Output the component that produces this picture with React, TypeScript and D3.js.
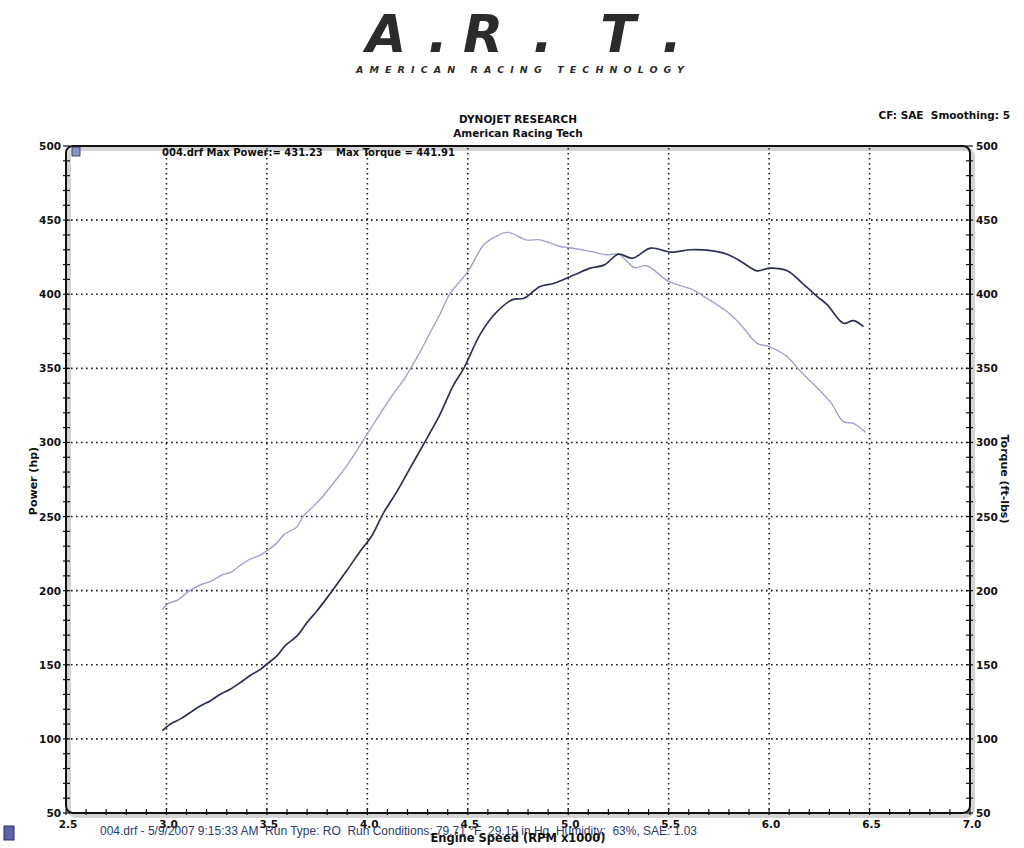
import React from 'react';
import * as d3 from 'd3';

// Engine speed (RPM x1000) and power (hp)
const rpmPower = [2.98, 3.02, 3.07, 3.12, 3.17, 3.22, 3.27, 3.32, 3.37, 3.42, 3.47, 3.5, 3.55, 3.59, 3.65, 3.7, 3.75, 3.8, 3.83, 3.9, 3.97, 4.02, 4.08, 4.15, 4.21, 4.26, 4.31, 4.36, 4.43, 4.48, 4.56, 4.63, 4.72, 4.78, 4.86, 4.93, 5.03, 5.11, 5.18, 5.25, 5.32, 5.41, 5.51, 5.61, 5.69, 5.79, 5.86, 5.94, 6.0, 6.09, 6.17, 6.24, 6.29, 6.37, 6.42, 6.47];
const powerHp = [105.6, 110, 113.5, 118, 122.4, 125.8, 130.3, 133.7, 138.2, 143.1, 147.1, 150.5, 156, 162.8, 169.5, 178.5, 186.5, 195.3, 200.8, 214, 227.6, 236.5, 252.3, 267.5, 282, 294, 306, 318.5, 339, 350, 372.6, 386, 396.2, 397.3, 405.2, 407.4, 413.1, 417.6, 419.8, 427, 424.3, 431.1, 428.4, 430, 429.7, 427, 422.1, 415.8, 417.6, 415.8, 406.8, 398.4, 392.8, 380.4, 382.2, 378.2];

// Engine speed (RPM x1000) and torque (ft-lbs)
const rpmTorque = [2.98, 3.0, 3.06, 3.11, 3.17, 3.22, 3.28, 3.32, 3.36, 3.41, 3.47, 3.5, 3.54, 3.59, 3.65, 3.68, 3.73, 3.77, 3.83, 3.9, 3.97, 4.0, 4.07, 4.13, 4.18, 4.22, 4.27, 4.32, 4.36, 4.41, 4.5, 4.58, 4.64, 4.7, 4.79, 4.86, 4.96, 5.0, 5.11, 5.19, 5.25, 5.33, 5.39, 5.5, 5.62, 5.69, 5.79, 5.86, 5.94, 6.0, 6.09, 6.15, 6.25, 6.31, 6.37, 6.42, 6.48];
const torqueFtLb = [187.2, 190.6, 194, 199.5, 204, 206.3, 210.8, 212.3, 216.3, 220.8, 224.2, 226.9, 230.9, 238.3, 243.2, 250, 256.7, 262.3, 272.4, 284.7, 299.3, 306, 320.6, 333, 342, 351, 363, 376, 386, 400, 415.3, 433.4, 439, 441.7, 436.7, 436.7, 432.2, 431.5, 428.9, 426.6, 427, 418, 419.2, 408.6, 403, 397.3, 388.3, 379.3, 366.9, 364.7, 357.9, 348.9, 335.4, 326.4, 314, 312.8, 306.8];

const xTicks = [2.5, 3.0, 3.5, 4.0, 4.5, 5.0, 5.5, 6.0, 6.5, 7.0];
const yTicks = [50, 100, 150, 200, 250, 300, 350, 400, 450, 500];

const maxPowerLabel = '004.drf Max Power:= 431.23';
const maxTorqueLabel = 'Max Torque = 441.91';
const footerText = '004.drf - 5/9/2007 9:15:33 AM  Run Type: RO  Run Conditions: 79.71 °F  29.15 in Hg  Humidity:  63%, SAE: 1.03';

const L = 66, R = 970, T = 146, B = 813;

export default function App() {
  const x = d3.scaleLinear().domain([2.5, 7.0]).range([L, R]);
  const y = d3.scaleLinear().domain([50, 500]).range([B, T]);
  const yR = d3.scaleLinear().domain([50, 500]).range([B, T]);

  const powerLine = d3
    .line<number>()
    .x((_, i) => x(rpmPower[i]))
    .y((d) => y(d))
    .curve(d3.curveCatmullRom.alpha(0.5));
  const torqueLine = d3
    .line<number>()
    .x((_, i) => x(rpmTorque[i]))
    .y((d) => yR(d))
    .curve(d3.curveCatmullRom.alpha(0.5));

  const minorX = d3.range(25, 71).map((v) => v / 10);
  const minorY = d3.range(50, 501, 10);

  const bold = { fontFamily: '"DejaVu Sans", Verdana, sans-serif', fontWeight: 700 as const };

  return (
    <svg
      width={1024}
      height={848}
      style={{ position: 'absolute', left: 0, top: 0, background: '#fff' }}
    >
      <rect x={0} y={0} width={1024} height={848} fill="#ffffff" />
      {/* Logo */}
      <g fill="#2b2b2b" style={{ fontFamily: '"DejaVu Sans", sans-serif', fontStyle: 'italic', fontWeight: 700 }}>
        <text x={386} y={52} fontSize={52} textAnchor="middle">A</text>
        <text x={438} y={52} fontSize={52} textAnchor="middle">.</text>
        <text x={483} y={52} fontSize={52} textAnchor="middle">R</text>
        <text x={543} y={52} fontSize={52} textAnchor="middle">.</text>
        <text x={618} y={52} fontSize={52} textAnchor="middle">T</text>
        <text x={672} y={52} fontSize={52} textAnchor="middle">.</text>
      </g>
      <text
        x={356}
        y={73}
        fontSize={9.5}
        textLength={328}
        lengthAdjust="spacing"
        fill="#2b2b2b"
        style={{ fontFamily: '"DejaVu Sans", sans-serif', fontStyle: 'italic', fontWeight: 700 }}
      >
        AMERICAN RACING TECHNOLOGY
      </text>

      {/* Titles */}
      <text x={518} y={123} fontSize={10.5} textAnchor="middle" fill="#111" style={bold}>DYNOJET RESEARCH</text>
      <text x={518} y={137} fontSize={10.5} textAnchor="middle" fill="#111" style={bold}>American Racing Tech</text>
      <text x={1010} y={119} fontSize={10.5} textAnchor="end" fill="#111" style={{ ...bold, whiteSpace: 'pre' }}>CF: SAE  Smoothing: 5</text>

      {/* Frame shadow */}
      <rect x={L + 3} y={T + 3} width={R - L} height={B - T} rx={7} fill="none" stroke="#d4d4d4" strokeWidth={4} />

      {/* Grid */}
      <g stroke="#1a1a1a" strokeWidth={1.6} strokeDasharray="1.6,3.4">
        {xTicks.slice(1, -1).map((t) => (
          <line key={'gx' + t} x1={x(t)} x2={x(t)} y1={T + 2} y2={B} />
        ))}
        {yTicks.slice(1, -1).map((t) => (
          <line key={'gy' + t} x1={L} x2={R} y1={y(t)} y2={y(t)} />
        ))}
      </g>

      {/* Curves */}
      <path d={torqueLine(torqueFtLb) || ''} fill="none" stroke="#a2a3cd" strokeWidth={1.4} />
      <path d={powerLine(powerHp) || ''} fill="none" stroke="#2c3152" strokeWidth={1.7} />

      {/* Frame */}
      <rect x={L} y={T} width={R - L} height={B - T} rx={7} fill="none" stroke="#111" strokeWidth={2} />

      {/* Minor ticks */}
      <g stroke="#111" strokeWidth={1.2}>
        {minorX.map((t) => (
          <line key={'mx' + t} x1={x(t)} x2={x(t)} y1={B - 4} y2={B + 2} />
        ))}
        {minorY.map((t) => (
          <line key={'ml' + t} x1={L - 3} x2={L + 4} y1={y(t)} y2={y(t)} />
        ))}
        {minorY.map((t) => (
          <line key={'mr' + t} x1={R - 4} x2={R + 3} y1={yR(t)} y2={yR(t)} />
        ))}
      </g>

      {/* Left ticks labels */}
      {yTicks.map((t) => (
        <text key={'ly' + t} x={L - 5} y={y(t) + 4} fontSize={10.5} textAnchor="end" fill="#111" style={bold}>
          {t}
        </text>
      ))}
      {/* Right tick labels */}
      {yTicks.map((t) => (
        <text key={'ry' + t} x={R + 6} y={yR(t) + 4} fontSize={10.5} textAnchor="start" fill="#111" style={bold}>
          {t}
        </text>
      ))}
      {/* X tick labels */}
      {xTicks.map((t) => (
        <text key={'lx' + t} x={x(t) + 2} y={828} fontSize={10.5} textAnchor="middle" fill="#111" style={bold}>
          {d3.format('.1f')(t)}
        </text>
      ))}

      {/* Axis titles */}
      <text transform={`translate(37,481) rotate(-90)`} fontSize={11} textAnchor="middle" fill="#111" style={bold}>
        Power (hp)
      </text>
      <text transform={`translate(1001,479) rotate(90)`} fontSize={11} textAnchor="middle" fill="#111" style={bold}>
        Torque (ft-lbs)
      </text>

      {/* Legend */}
      <rect x={72} y={147} width={8} height={9} fill="#8c8fd0" stroke="#333" strokeWidth={0.8} />
      <text x={162} y={156} fontSize={10} fill="#111" style={bold}>{maxPowerLabel}</text>
      <text x={336} y={156} fontSize={10} fill="#111" style={bold}>{maxTorqueLabel}</text>

      {/* Footer */}
      <rect x={4} y={826} width={10} height={14} fill="#5a64a8" stroke="#2a2f60" strokeWidth={1} />
      <text
        x={100}
        y={835}
        fontSize={12}
        textLength={597}
        lengthAdjust="spacingAndGlyphs"
        fill="#2d3a6e"
        style={{ fontFamily: '"Liberation Sans", Arial, sans-serif', whiteSpace: 'pre' }}
      >
        {footerText}
      </text>
      <text x={518} y={842} fontSize={11.5} textAnchor="middle" fill="#111" style={bold}>
        Engine Speed (RPM x1000)
      </text>
    </svg>
  );
}
